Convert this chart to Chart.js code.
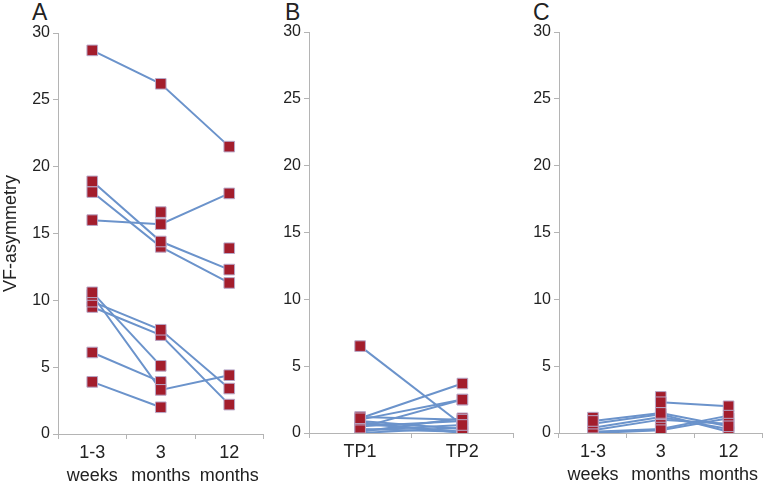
<!DOCTYPE html>
<html>
<head>
<meta charset="utf-8">
<script src="https://cdn.jsdelivr.net/npm/chart.js@4.4.0/dist/chart.umd.min.js"></script>
<style>
  body { margin: 0; background: #fff; width: 771px; height: 481px; position: relative; overflow: hidden; font-family: "Liberation Sans", Arial, sans-serif; }
  canvas { position: absolute; top: 0; }
  .tag { position: absolute; top: 1px; font-size: 23px; line-height: 1; color: #222; }
</style>
</head>
<body>
<div class="tag" style="left:32px">A</div>
<div class="tag" style="left:285px">B</div>
<div class="tag" style="left:533px">C</div>
<canvas id="chartA" width="272" height="481" style="left:0px"></canvas>
<canvas id="chartB" width="250" height="481" style="left:272px"></canvas>
<canvas id="chartC" width="249" height="481" style="left:522px"></canvas>
<script>
// categories
const periodLabels = [['1-3', 'weeks'], ['3', 'months'], ['12', 'months']];
const tpLabels = ['TP1', 'TP2'];

// y axis
const yMin = 0;
const yMax = 30;
const yStep = 5;

// panel A: one array per patient (1-3 weeks, 3 months, 12 months)
const seriesA = [
  [28.7, 26.2, 21.5],
  [18.9, 14.4, 12.3],
  [18.1, 14.0, 11.3],
  [16.0, 15.7, 18.0],
  [null, 16.6, null],
  [null, null, 13.9],
  [10.6, 5.1, null],
  [10.4, 3.3, 4.4],
  [9.9, 7.8, 3.4],
  [9.5, 7.4, 2.2],
  [6.1, 3.9, null],
  [3.9, 2.0, null]
];

// panel B: TP1, TP2
const seriesB = [
  [6.5, 0.6],
  [1.1, 3.7],
  [1.0, 2.5],
  [0.4, 2.5],
  [1.2, 1.0],
  [0.9, 0.3],
  [0.7, 0.1],
  [0.5, 0.9],
  [0.3, 0.1],
  [0.2, 0.6],
  [0.8, 0.0],
  [0.1, 1.1],
  [0.0, 0.4]
];

// panel C: 1-3 weeks, 3 months, 12 months
const seriesC = [
  [0.9, 1.5, 0.5],
  [0.7, 1.4, 0.1],
  [0.4, 1.2, 0.3],
  [0.2, 1.0, 0.7],
  [0.1, 0.3, 1.3],
  [0.0, 0.2, 1.1],
  [null, 2.3, 2.0],
  [null, 2.7, null],
  [1.15, null, null]
];

const LINE = '#6b93cb';
const MARK = '#a31d2c';
const EDGE = '#b8a8c8';
const AXIS = '#b4b4b4';
const TEXT = '#222';

Chart.defaults.font.family = '"Liberation Sans", Arial, sans-serif';

function makePanel(id, labels, series, yWidth, xHeight, pad, yTitle) {
  const datasets = [];
  series.forEach(values => {
    // line first, markers drawn on top of every line
    datasets.push({
      data: values,
      borderColor: LINE,
      borderWidth: 2,
      pointRadius: 0,
      pointHoverRadius: 0,
      spanGaps: false,
      order: 2
    });
    datasets.push({
      data: values,
      showLine: false,
      pointStyle: 'rect',
      pointRadius: 7.5,
      pointHoverRadius: 7.5,
      backgroundColor: MARK,
      borderColor: EDGE,
      borderWidth: 1,
      order: 1
    });
  });

  return new Chart(document.getElementById(id), {
    type: 'line',
    data: { labels: labels, datasets: datasets },
    options: {
      responsive: false,
      animation: false,
      layout: { padding: pad },
      plugins: {
        legend: { display: false },
        tooltip: { enabled: false }
      },
      scales: {
        x: {
          offset: true,
          grid: { offset: true, drawOnChartArea: false, drawTicks: true, tickLength: 5, color: AXIS },
          border: { color: AXIS, width: 1 },
          ticks: { color: TEXT, font: { size: 18, lineHeight: 1.25 }, padding: 3, maxRotation: 0, autoSkip: false },
          afterFit(scale) {
            scale.height = xHeight;
            scale.paddingLeft = 0;
            scale.paddingRight = 0;
          }
        },
        y: {
          min: yMin,
          max: yMax,
          grid: { drawOnChartArea: false, drawTicks: true, tickLength: 5, color: AXIS },
          border: { color: AXIS, width: 1 },
          ticks: { stepSize: yStep, color: TEXT, font: { size: 16 }, padding: 3 },
          title: {
            display: !!yTitle,
            text: yTitle || '',
            color: TEXT,
            font: { size: 18 },
            padding: 0
          },
          afterFit(scale) {
            scale.width = yWidth;
            scale.paddingTop = 0;
            scale.paddingBottom = 0;
          }
        }
      }
    }
  });
}

makePanel('chartA', periodLabels, seriesA, 58, 47, { top: 33, left: 0, right: 4, bottom: 0 }, 'VF-asymmetry');
makePanel('chartB', tpLabels, seriesB, 37, 48, { top: 32, left: 0, right: 3, bottom: 0 });
makePanel('chartC', periodLabels, seriesC, 37, 48, { top: 32, left: 0, right: 2, bottom: 0 });
</script>
</body>
</html>
